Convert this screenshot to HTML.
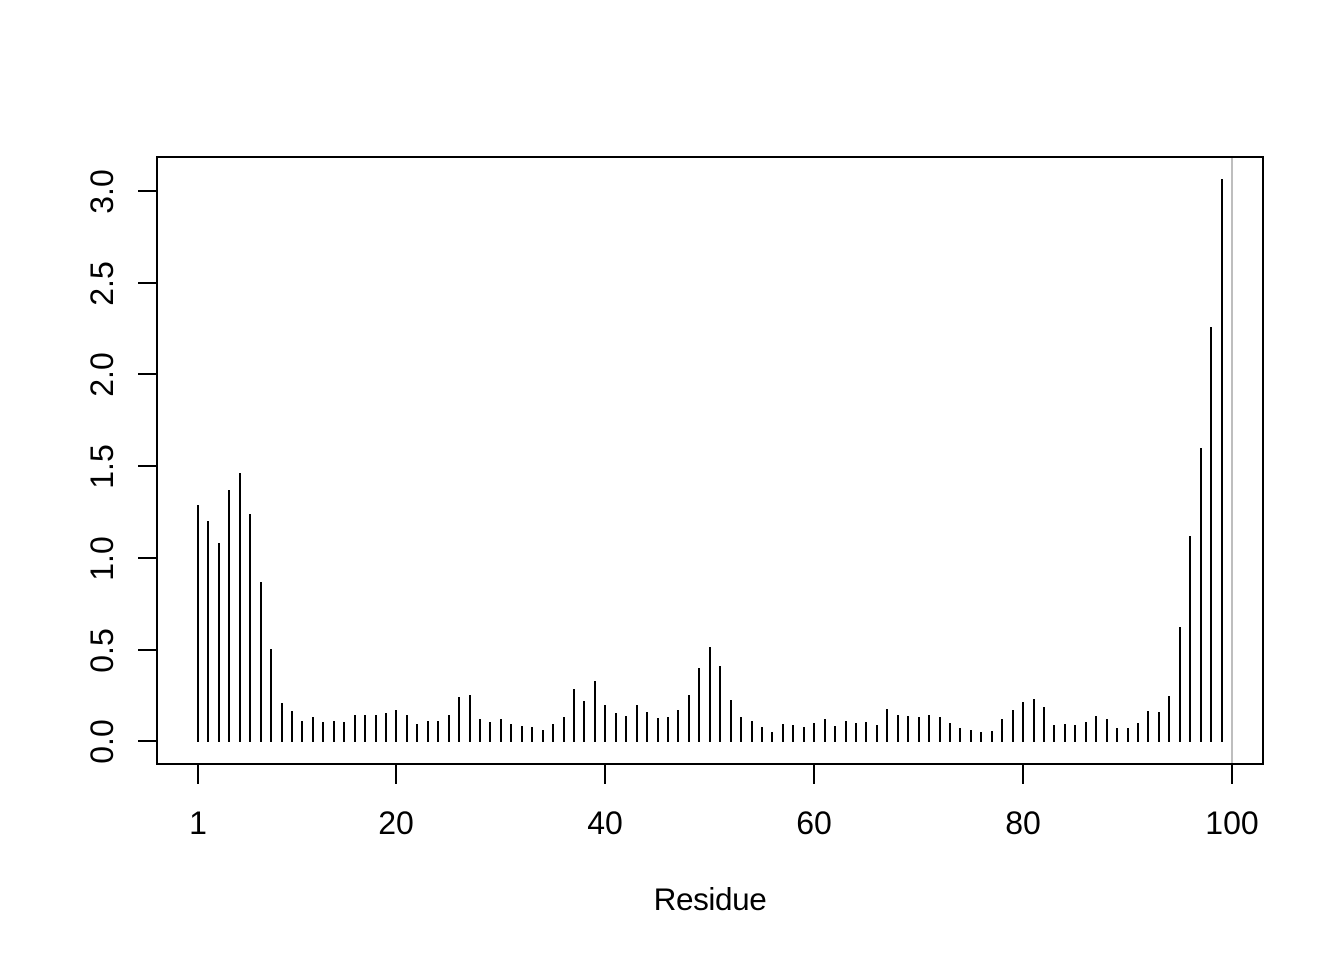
<!DOCTYPE html>
<html lang="en">
<head>
<meta charset="utf-8">
<title>Residue chart</title>
<style>
  html, body { margin: 0; padding: 0; background: #fff; }
  svg { display: block; }
  text { font-family: "Liberation Sans", Arial, sans-serif; font-size: 32px; fill: #000; }
</style>
</head>
<body>
<svg id="chart" xmlns="http://www.w3.org/2000/svg" width="1344" height="960" viewBox="0 0 1344 960" shape-rendering="crispEdges"></svg>
<script>
const residues = [];
for (let r = 1; r <= 99; r++) residues.push(r);
const seriesValues = [
  1.289, 1.202, 1.082, 1.371, 1.463, 1.240, 0.870, 0.505, 0.211, 0.167,
  0.113, 0.135, 0.107, 0.113, 0.107, 0.145, 0.145, 0.145, 0.156, 0.173,
  0.145, 0.096, 0.113, 0.113, 0.145, 0.243, 0.254, 0.124, 0.107, 0.124,
  0.096, 0.086, 0.080, 0.064, 0.096, 0.135, 0.287, 0.222, 0.331, 0.200,
  0.156, 0.140, 0.200, 0.162, 0.129, 0.135, 0.173, 0.254, 0.401, 0.516,
  0.412, 0.227, 0.135, 0.113, 0.080, 0.053, 0.096, 0.091, 0.080, 0.102,
  0.124, 0.086, 0.113, 0.102, 0.107, 0.091, 0.178, 0.145, 0.140, 0.135,
  0.145, 0.135, 0.102, 0.075, 0.064, 0.053, 0.058, 0.124, 0.173, 0.216,
  0.232, 0.190, 0.091, 0.096, 0.091, 0.107, 0.140, 0.124, 0.075, 0.075,
  0.102, 0.167, 0.162, 0.249, 0.625, 1.120, 1.600, 2.260, 3.065
];
const xTickValues = [1, 20, 40, 60, 80, 100];
const yTickValues = [0, 0.5, 1, 1.5, 2, 2.5, 3];
const yTickLabels = ["0.0", "0.5", "1.0", "1.5", "2.0", "2.5", "3.0"];
const referenceLineResidue = 100;
const xAxisTitle = "Residue";

const NS = "http://www.w3.org/2000/svg";
const svg = document.getElementById("chart");
const box = { left: 157, right: 1263, top: 157, bottom: 764 };
const xScale = function (v) { return Math.round(198 + (v - 1) * (1232 - 198) / 99); };
const yScale = function (v) { return Math.round(741.7 - v * 183.6); };
const yTickScale = function (v) { return Math.round(741.3 - v * 183.5); };

function make(tag, attrs, parent) {
  const el = document.createElementNS(NS, tag);
  for (const k in attrs) el.setAttribute(k, attrs[k]);
  (parent || svg).appendChild(el);
  return el;
}
function group(parent) {
  return make("g", {}, parent);
}

/* reference line */
const refLine = make("line", { x1: xScale(referenceLineResidue), x2: xScale(referenceLineResidue), y1: box.top, y2: box.bottom, stroke: "#bebebe", "stroke-width": 2 });



/* bars */
const barGroup = group();


residues.forEach(function (r, i) {
  const bar = make("line", { x1: xScale(r), x2: xScale(r), y1: yScale(0), y2: yScale(seriesValues[i]), stroke: "#000", "stroke-width": 2 }, barGroup);
  
  
});

/* plot box */
const frame = make("rect", { x: box.left, y: box.top, width: box.right - box.left, height: box.bottom - box.top, fill: "none", stroke: "#000", "stroke-width": 2 });



/* x axis */
const xAxis = group();


xTickValues.forEach(function (v) {
  const px = xScale(v);
  const tick = make("line", { x1: px, x2: px, y1: box.bottom, y2: box.bottom + 20, stroke: "#000", "stroke-width": 2 }, xAxis);
  
  
  const label = make("text", { x: px, y: 834, "text-anchor": "middle" }, xAxis);
  label.textContent = String(v);
  
  
});
const xTitle = make("text", { x: 710, y: 910, "text-anchor": "middle", style: "font-size:31.5px;letter-spacing:-0.4px" });
xTitle.textContent = xAxisTitle;



/* y axis */
const yAxis = group();


yTickValues.forEach(function (v, i) {
  const py = yTickScale(v);
  const tick = make("line", { x1: box.left - 19, x2: box.left, y1: py, y2: py, stroke: "#000", "stroke-width": 2 }, yAxis);
  
  
  const label = make("text", { x: 0, y: 0, "text-anchor": "middle", transform: "translate(113 " + (py + 0.5) + ") rotate(-90)" }, yAxis);
  label.textContent = yTickLabels[i];
  
  
});
</script>
</body>
</html>
